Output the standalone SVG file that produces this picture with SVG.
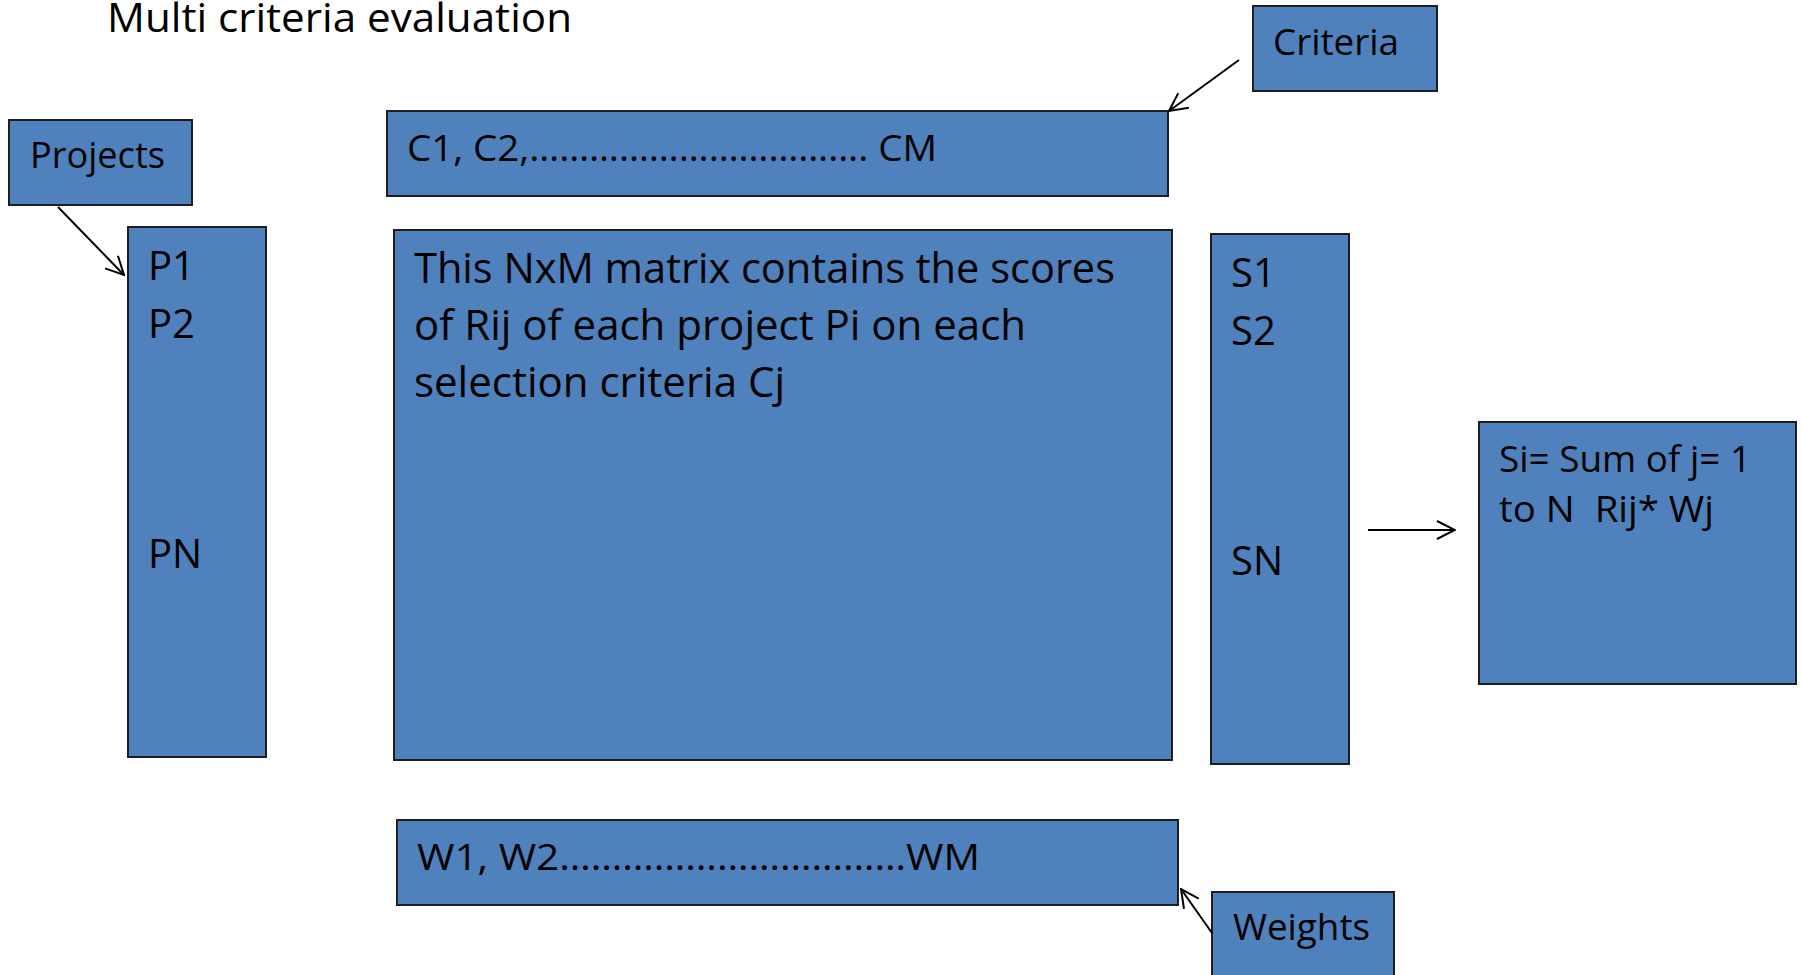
<svg xmlns="http://www.w3.org/2000/svg" width="1802" height="975" viewBox="0 0 1802 975">
<style>
.box{fill:#4F81BD;stroke:#1e1e1e;stroke-width:2}
.t{font-family:"Open Sans","Liberation Sans",sans-serif;fill:#000}
.conn{stroke:#000;stroke-width:2;fill:none}
</style>
<defs>
<marker id="arr" viewBox="0 0 20 20" refX="19" refY="10" markerWidth="20" markerHeight="20" markerUnits="userSpaceOnUse" orient="auto">
<path d="M1,1 L19,10 L1,19" fill="none" stroke="#000" stroke-width="2"/>
</marker>
</defs>
<rect width="1802" height="975" fill="#fff"/>
<g id="title"><text class="t" x="107" y="32" font-size="40" textLength="465" lengthAdjust="spacingAndGlyphs">Multi criteria evaluation</text></g>
<g id="projects"><rect class="box" x="9" y="120" width="183" height="85"/><text class="t" x="30" y="168" font-size="36" textLength="135" lengthAdjust="spacingAndGlyphs">Projects</text></g>
<g id="criteria"><rect class="box" x="1253" y="6" width="184" height="85"/><text class="t" x="1273" y="55" font-size="36" textLength="126" lengthAdjust="spacingAndGlyphs">Criteria</text></g>
<g id="plist"><rect class="box" x="128" y="227" width="138" height="530"/>
<text class="t" x="148" y="280" font-size="40">P1</text>
<text class="t" x="148" y="338" font-size="40">P2</text>
<text class="t" x="148" y="568" font-size="40">PN</text></g>
<g id="clist"><rect class="box" x="387" y="111" width="781" height="85"/><text class="t" x="407" y="161" font-size="36" textLength="530" lengthAdjust="spacingAndGlyphs">C1, C2,……………………………. CM</text></g>
<g id="matrix"><rect class="box" x="394" y="230" width="778" height="530"/>
<text class="t" x="414" y="283" font-size="42" textLength="701" lengthAdjust="spacingAndGlyphs">This NxM matrix contains the scores</text>
<text class="t" x="414" y="340" font-size="42" textLength="612" lengthAdjust="spacingAndGlyphs">of Rij of each project Pi on each</text>
<text class="t" x="414" y="397" font-size="42" textLength="371" lengthAdjust="spacingAndGlyphs">selection criteria Cj</text></g>
<g id="slist"><rect class="box" x="1211" y="234" width="138" height="530"/>
<text class="t" x="1231" y="287" font-size="40">S1</text>
<text class="t" x="1231" y="345" font-size="40">S2</text>
<text class="t" x="1231" y="575" font-size="40">SN</text></g>
<g id="formula"><rect class="box" x="1479" y="422" width="317" height="262"/>
<text class="t" x="1499" y="472" font-size="36" textLength="252" lengthAdjust="spacingAndGlyphs">Si= Sum of j= 1</text>
<text class="t" x="1499" y="522" font-size="36" textLength="215" lengthAdjust="spacingAndGlyphs" xml:space="preserve">to N  Rij* Wj</text></g>
<g id="wlist"><rect class="box" x="397" y="820" width="781" height="85"/><text class="t" x="417" y="870" font-size="36" textLength="563" lengthAdjust="spacingAndGlyphs">W1, W2……………………………WM</text></g>
<g id="weights"><rect class="box" x="1212" y="892" width="182" height="100"/><text class="t" x="1233" y="940" font-size="36" textLength="137" lengthAdjust="spacingAndGlyphs">Weights</text></g>
<g id="connectors">
<line class="conn" x1="58" y1="207" x2="124" y2="275" marker-end="url(#arr)"/>
<line class="conn" x1="1239" y1="60" x2="1169" y2="111" marker-end="url(#arr)"/>
<line class="conn" x1="1212" y1="933" x2="1181" y2="889" marker-end="url(#arr)"/>
<line class="conn" x1="1368" y1="530" x2="1455" y2="530" marker-end="url(#arr)"/>
</g>
</svg>
